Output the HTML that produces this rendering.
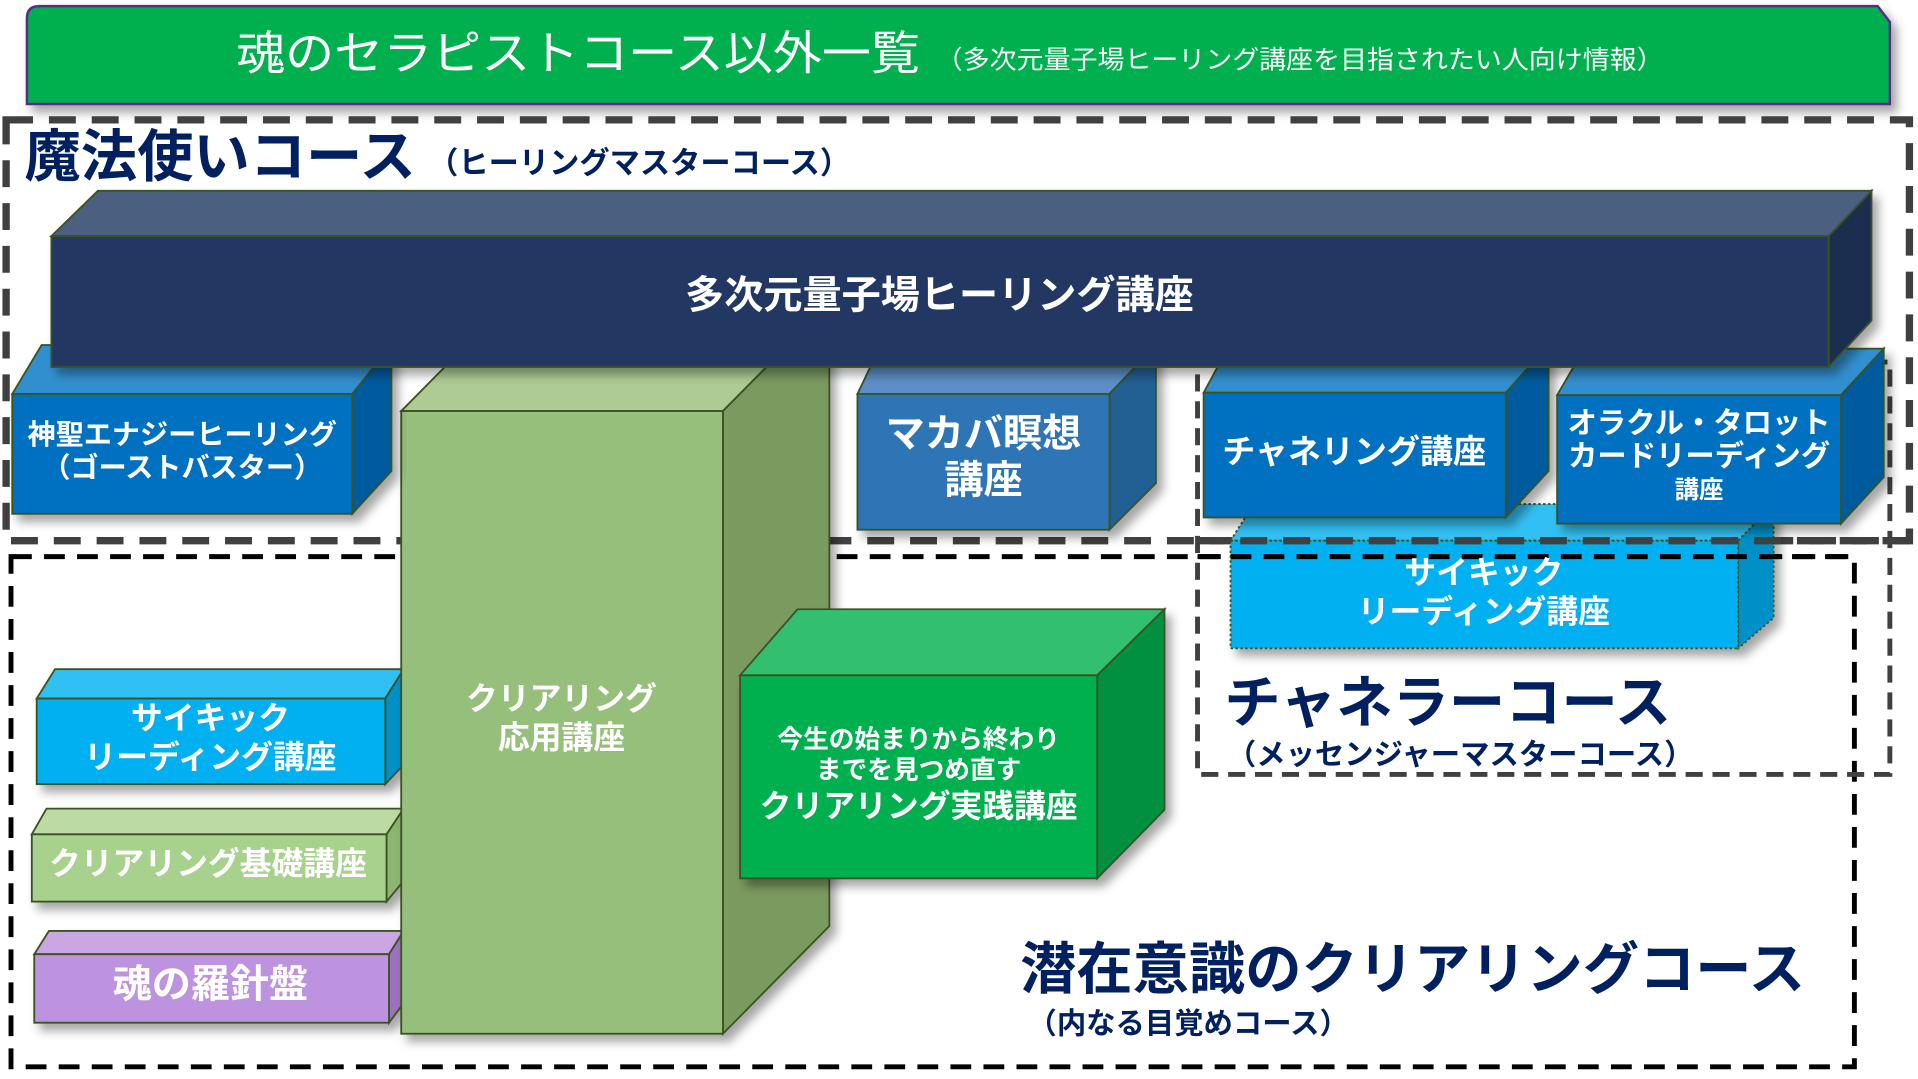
<!DOCTYPE html>
<html><head><meta charset="utf-8"><style>
html,body{margin:0;padding:0;background:#fff;overflow:hidden}
svg{display:block}
text{font-family:"Liberation Sans","Noto Sans CJK JP",sans-serif;font-weight:bold}
</style></head><body>
<svg width="1918" height="1079" viewBox="0 0 1568 882" preserveAspectRatio="none" xmlns="http://www.w3.org/2000/svg">
<defs>
<filter id="sh" x="-10%" y="-10%" width="130%" height="140%"><feDropShadow dx="5" dy="6" stdDeviation="4" flood-color="#000" flood-opacity="0.35"/></filter>
</defs>
<g stroke="#3b5323" stroke-width="1.5">
<path d="M32,5 H1535 L1545,18 V85 H22 V15 Q22,5 32,5 Z" fill="#00b050" stroke="#5b2a86" stroke-width="2" filter="url(#sh)"/>
</g>
<text x="193" y="57" font-size="38" fill="#fff" style="font-weight:normal" textLength="559" lengthAdjust="spacingAndGlyphs">魂のセラピストコース以外一覧</text>
<text x="765" y="56" font-size="21" fill="#fff" style="font-weight:normal" textLength="595" lengthAdjust="spacingAndGlyphs">（多次元量子場ヒーリング講座を目指されたい人向け情報）</text>

<rect x="5" y="98" width="1556" height="344" fill="none" stroke="#404040" stroke-width="6" stroke-dasharray="22,13"/>
<text x="20" y="144" font-size="46" fill="#002060" textLength="320" lengthAdjust="spacingAndGlyphs">魔法使いコース</text>
<text x="350" y="142" font-size="25" fill="#002060" textLength="345" lengthAdjust="spacingAndGlyphs">（ヒーリングマスターコース）</text>

<rect x="9" y="455" width="1507" height="417" fill="none" stroke="#000" stroke-width="4" stroke-dasharray="17,10"/>
<rect x="979" y="296" width="566" height="337" fill="none" stroke="#404040" stroke-width="4" stroke-dasharray="14,8"/>

<g stroke="#3b5323" stroke-width="1.5">
<g filter="url(#sh)">
<polygon points="30,571 45,547 330,547 315,571" fill="#33c0f3"/>
<polygon points="315,571 330,547 330,625 315,641" fill="#0090c8"/>
<rect x="30" y="571" width="285" height="70" fill="#00b0f0"/>
</g>
<g filter="url(#sh)">
<polygon points="26,682 38,661 330,661 316,682" fill="#bbdaa4"/>
<polygon points="316,682 330,661 330,720 316,737" fill="#8db470"/>
<rect x="26" y="682" width="290" height="55" fill="#a9d18e"/>
</g>
<g filter="url(#sh)">
<polygon points="28,780 40,761 330,761 318,780" fill="#caa6e3"/>
<polygon points="318,780 330,761 330,820 318,836" fill="#9c72bd"/>
<rect x="28" y="780" width="290" height="56" fill="#bd92de"/>
</g>

<g filter="url(#sh)">
<polygon points="328,336 415,248 678,248 591,336" fill="#aecb94"/>
<polygon points="591,336 678,248 678,757 591,845" fill="#7a9a60"/>
<rect x="328" y="336" width="263" height="509" fill="#97bf7b"/>
</g>

<g filter="url(#sh)">
<polygon points="605,552 652,498 952,498 897,552" fill="#33c06f"/>
<polygon points="897,552 952,498 952,662 897,718" fill="#009040"/>
<rect x="605" y="552" width="292" height="166" fill="#00b050"/>
</g>

<g filter="url(#sh)">
<polygon points="1006,442 1025,412 1450,412 1421,442" fill="#33c0f3" stroke-dasharray="2,2"/>
<polygon points="1421,442 1450,412 1450,505 1421,530" fill="#0090c8" stroke-dasharray="2,2"/>
<rect x="1006" y="442" width="415" height="88" fill="#00b0f0" stroke-dasharray="2,2"/>
</g>

<g filter="url(#sh)">
<polygon points="10,322 34,282 320,282 288,322" fill="#338fcf"/>
<polygon points="288,322 320,282 320,385 288,420" fill="#005a9e"/>
<rect x="10" y="322" width="278" height="98" fill="#0070c0"/>
</g>
<g filter="url(#sh)">
<polygon points="701,322 720,282 945,282 907,322" fill="#5b8fc7"/>
<polygon points="907,322 945,282 945,395 907,433" fill="#245e93"/>
<rect x="701" y="322" width="206" height="111" fill="#2e75b6"/>
</g>
<g filter="url(#sh)">
<polygon points="984,321 1005,282 1266,282 1231,321" fill="#338fcf"/>
<polygon points="1231,321 1266,282 1266,385 1231,423" fill="#005a9e"/>
<rect x="984" y="321" width="247" height="102" fill="#0070c0"/>
</g>
<g filter="url(#sh)">
<polygon points="1273,323 1295,285 1540,285 1505,323" fill="#338fcf"/>
<polygon points="1505,323 1540,285 1540,390 1505,428" fill="#005a9e"/>
<rect x="1273" y="323" width="232" height="105" fill="#0070c0"/>
</g>

<g filter="url(#sh)">
<polygon points="42,193 80,156 1530,156 1495,193" fill="#4b5e80"/>
<polygon points="1495,193 1530,156 1530,262 1495,300" fill="#1f2e50"/>
<rect x="42" y="193" width="1453" height="107" fill="#203864"/>
</g>
</g>

<line x1="979" y1="442" x2="1561" y2="442" stroke="#404040" stroke-width="6" stroke-dasharray="22,13"/>
<line x1="979" y1="455" x2="1516" y2="455" stroke="#000" stroke-width="4" stroke-dasharray="17,10"/>

<g fill="#fff" text-anchor="middle" dominant-baseline="central">
<text x="768" y="242" font-size="32">多次元量子場ヒーリング講座</text>
<text x="149" y="355" font-size="23">神聖エナジーヒーリング</text>
<text x="149" y="382" font-size="23">（ゴーストバスター）</text>
<text x="459" y="571" font-size="26">クリアリング</text>
<text x="459" y="603" font-size="26">応用講座</text>
<text x="751" y="605" font-size="21">今生の始まりから終わり</text>
<text x="751" y="630" font-size="21">までを見つめ直す</text>
<text x="751" y="659" font-size="26">クリアリング実践講座</text>
<text x="804" y="355" font-size="32">マカバ瞑想</text>
<text x="804" y="393" font-size="32">講座</text>
<text x="1107" y="369" font-size="27">チャネリング講座</text>
<text x="1389" y="346" font-size="24">オラクル・タロット</text>
<text x="1389" y="373" font-size="24">カードリーディング</text>
<text x="1389" y="401" font-size="20">講座</text>
<text x="1213" y="468" font-size="26">サイキック</text>
<text x="1213" y="500" font-size="26">リーディング講座</text>
<text x="172" y="587" font-size="26">サイキック</text>
<text x="172" y="619" font-size="26">リーディング講座</text>
<text x="170" y="706" font-size="26">クリアリング基礎講座</text>
<text x="172" y="805" font-size="32">魂の羅針盤</text>
</g>

<text x="1001" y="590" font-size="46" fill="#002060">チャネラーコース</text>
<text x="1003" y="625" font-size="24" fill="#002060">（メッセンジャーマスターコース）</text>
<text x="834" y="808" font-size="46" fill="#002060">潜在意識のクリアリングコース</text>
<text x="840" y="845" font-size="24" fill="#002060">（内なる目覚めコース）</text>
</svg>
</body></html>
